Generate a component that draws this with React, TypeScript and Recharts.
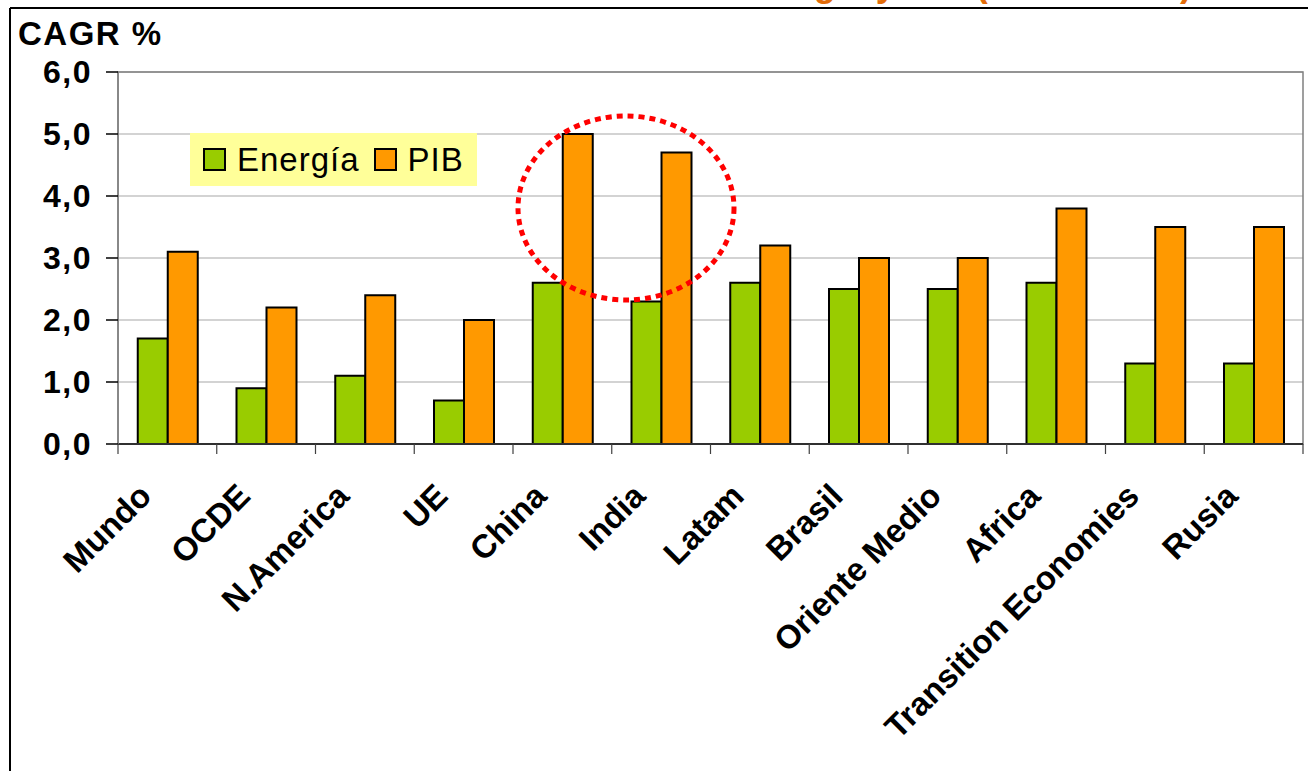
import React from 'react';
import { BarChart, Bar, XAxis, YAxis, CartesianGrid, ReferenceArea } from 'recharts';

const regions = [
  'Mundo', 'OCDE', 'N.America', 'UE', 'China', 'India',
  'Latam', 'Brasil', 'Oriente Medio', 'Africa', 'Transition Economies', 'Rusia',
];
const energia = [1.7, 0.9, 1.1, 0.7, 2.6, 2.3, 2.6, 2.5, 2.5, 2.6, 1.3, 1.3];
const pib = [3.1, 2.2, 2.4, 2.0, 5.0, 4.7, 3.2, 3.0, 3.0, 3.8, 3.5, 3.5];
const yTicks = [0, 1, 2, 3, 4, 5, 6];

const series = [
  { key: 'energia', name: 'Energía', color: '#99CC00' },
  { key: 'pib', name: 'PIB', color: '#FF9900' },
];

const data = regions.map((region, i) => ({ region, energia: energia[i], pib: pib[i] }));

const FONT = '"Liberation Sans", Arial, sans-serif';

const RegionTick = (props: any) => {
  const { x, y, payload, index } = props;
  const half = payload && payload.offset ? payload.offset : 49.4;
  const lx = x - 14;
  const ly = y + 46;
  return (
    <g>
      <line x1={x - half} y1={y - 8} x2={x - half} y2={y + 2} stroke="#404040" strokeWidth={1.2} />
      {index === regions.length - 1 && (
        <line x1={x + half} y1={y - 8} x2={x + half} y2={y + 2} stroke="#404040" strokeWidth={1.2} />
      )}
      <text
        x={lx}
        y={ly}
        transform={`rotate(-45 ${lx} ${ly})`}
        textAnchor="end"
        fontFamily={FONT}
        fontWeight="bold"
        fontSize={33}
        fill="#000"
      >
        {payload.value}
      </text>
    </g>
  );
};

const LegendBox = () => (
  <div
    style={{
      position: 'absolute',
      left: 190,
      top: 133,
      background: '#FFFF99',
      width: 287,
      height: 53,
      display: 'flex',
      alignItems: 'center',
      paddingLeft: 13,
      boxSizing: 'border-box',
      fontFamily: FONT,
      fontSize: 33,
      color: '#000',
    }}
  >
    {series.map((s) => (
      <span key={s.key} style={{ display: 'flex', alignItems: 'center', marginRight: 14 }}>
        <span
          style={{
            display: 'inline-block',
            width: 19,
            height: 19,
            background: s.color,
            border: '2px solid #000',
            marginRight: 11,
          }}
        />
        <span style={{ letterSpacing: 1 }}>{s.name}</span>
      </span>
    ))}
  </div>
);

export default function App() {
  return (
    <div style={{ position: 'fixed', left: 0, top: 0, width: 1308, height: 771, background: '#fff', overflow: 'hidden' }}>
      <BarChart
        width={1308}
        height={771}
        data={data}
        margin={{ top: 72, right: 5, left: 0, bottom: 0 }}
        barCategoryGap="20%"
        barGap={0}
      >
        <CartesianGrid vertical={false} stroke="#c4c4c4" strokeWidth={1.5} />
        <ReferenceArea y1={0} y2={6} fill="none" stroke="#808080" strokeWidth={1.5} />
        <XAxis
          dataKey="region"
          interval={0}
          height={327}
          tickLine={false}
          axisLine={{ stroke: '#303030', strokeWidth: 2 }}
          tick={<RegionTick />}
        />
        <YAxis
          domain={[0, 6]}
          ticks={yTicks}
          width={118}
          tickSize={12}
          tickMargin={14}
          tickLine={{ stroke: '#000', strokeWidth: 1.5 }}
          axisLine={{ stroke: '#808080', strokeWidth: 1.5 }}
          tickFormatter={(v: number) => v.toFixed(1).replace('.', ',')}
          tick={{ fontFamily: FONT, fontWeight: 'bold', fontSize: 32, fill: '#000', letterSpacing: 1.5 }}
        />
        {series.map((s) => (
          <Bar
            key={s.key}
            dataKey={s.key}
            name={s.name}
            fill={s.color}
            stroke="#000"
            strokeWidth={2}
            isAnimationActive={false}
          />
        ))}
      </BarChart>
      <LegendBox />
      <svg
        width={1308}
        height={771}
        style={{ position: 'absolute', left: 0, top: 0, pointerEvents: 'none' }}
      >
        {/* title sits above the frame, only its descenders show, like in the source slide */}
        <text x={1192} y={-4} textAnchor="end" fontFamily={FONT} fontWeight="bold" fontSize={36} fill="#E36C09">
          Energía y PIB (2005 - 2030)
        </text>
        <line x1={10} y1={8} x2={1308} y2={8} stroke="#000" strokeWidth={2} />
        <line x1={10} y1={8} x2={10} y2={771} stroke="#000" strokeWidth={2} />
        <text x={18} y={45} fontFamily={FONT} fontWeight="bold" fontSize={33} letterSpacing={1.5} fill="#000">
          CAGR %
        </text>
        <ellipse
          cx={626}
          cy={208}
          rx={108}
          ry={92}
          fill="none"
          stroke="#FF0000"
          strokeWidth={5}
          strokeDasharray="6 5"
        />
      </svg>
    </div>
  );
}
